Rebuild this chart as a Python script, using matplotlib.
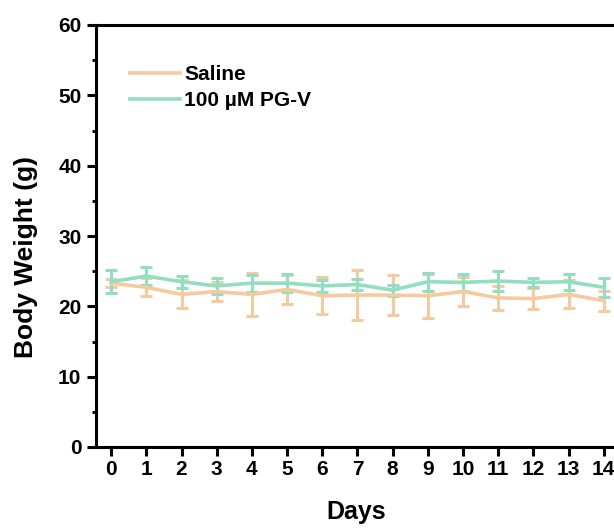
import numpy as np
import matplotlib.pyplot as plt

plt.rcParams['font.family'] = ['Liberation Sans', 'DejaVu Sans']
plt.rcParams['font.weight'] = 'bold'

# data
days = list(range(15))
saline = [23.3, 22.7, 21.7, 22.1, 21.7, 22.4, 21.5, 21.6, 21.6, 21.5, 22.1, 21.2, 21.1, 21.7, 20.8]
saline_err = [0.6, 1.3, 2.0, 1.3, 3.1, 2.1, 2.6, 3.5, 2.9, 3.1, 2.0, 1.7, 1.5, 2.0, 1.4]
pgv = [23.5, 24.3, 23.5, 22.9, 23.3, 23.3, 22.9, 23.1, 22.3, 23.5, 23.4, 23.6, 23.4, 23.5, 22.7]
pgv_err = [1.6, 1.3, 0.85, 1.1, 1.2, 1.3, 0.85, 0.75, 0.8, 1.25, 1.2, 1.45, 0.65, 1.15, 1.35]

c_saline = '#F5CA9E'
c_pgv = '#93DEC0'

fig = plt.figure(figsize=(6.14, 5.29), dpi=100)
ax = fig.add_axes([96 / 614, 82 / 529, 543 / 614, 422 / 529])

ax.errorbar(days, saline, yerr=saline_err, color=c_saline, lw=2.6,
            capsize=4.5, capthick=2.2, elinewidth=2.2, label='Saline')
ax.errorbar(days, pgv, yerr=pgv_err, color=c_pgv, lw=2.6,
            capsize=4.5, capthick=2.2, elinewidth=2.2, label='100 µM PG-V')

ax.set_xlim(-0.43, 15.0)
ax.set_ylim(0, 60)
ax.set_xticks(days)
ax.set_yticks(np.arange(0, 61, 10))
ax.set_yticks(np.arange(5, 60, 10), minor=True)

for sp in ax.spines.values():
    sp.set_linewidth(2.2)

ax.tick_params(axis='both', which='major', direction='out', length=6.5,
               width=2.2, labelsize=15)
ax.tick_params(axis='y', which='minor', direction='out', length=3, width=2)
ax.tick_params(axis='y', pad=4)
ax.tick_params(axis='x', pad=3)

ax.set_xlabel('Days', fontsize=18, fontweight='bold')
ax.set_ylabel('Body Weight (g)', fontsize=19, fontweight='bold')
ax.xaxis.set_label_coords(0.479, -0.125)
ax.yaxis.set_label_coords(-0.107, 0.45)

handles, labels = ax.get_legend_handles_labels()
handles = [h[0] for h in handles]
ax.legend(handles, labels, loc='upper left', bbox_to_anchor=(0.028, 0.95),
          frameon=False, fontsize=15, handlelength=2.4, handletextpad=0.2,
          labelspacing=0.35)

fig.savefig('out.png', dpi=100)
